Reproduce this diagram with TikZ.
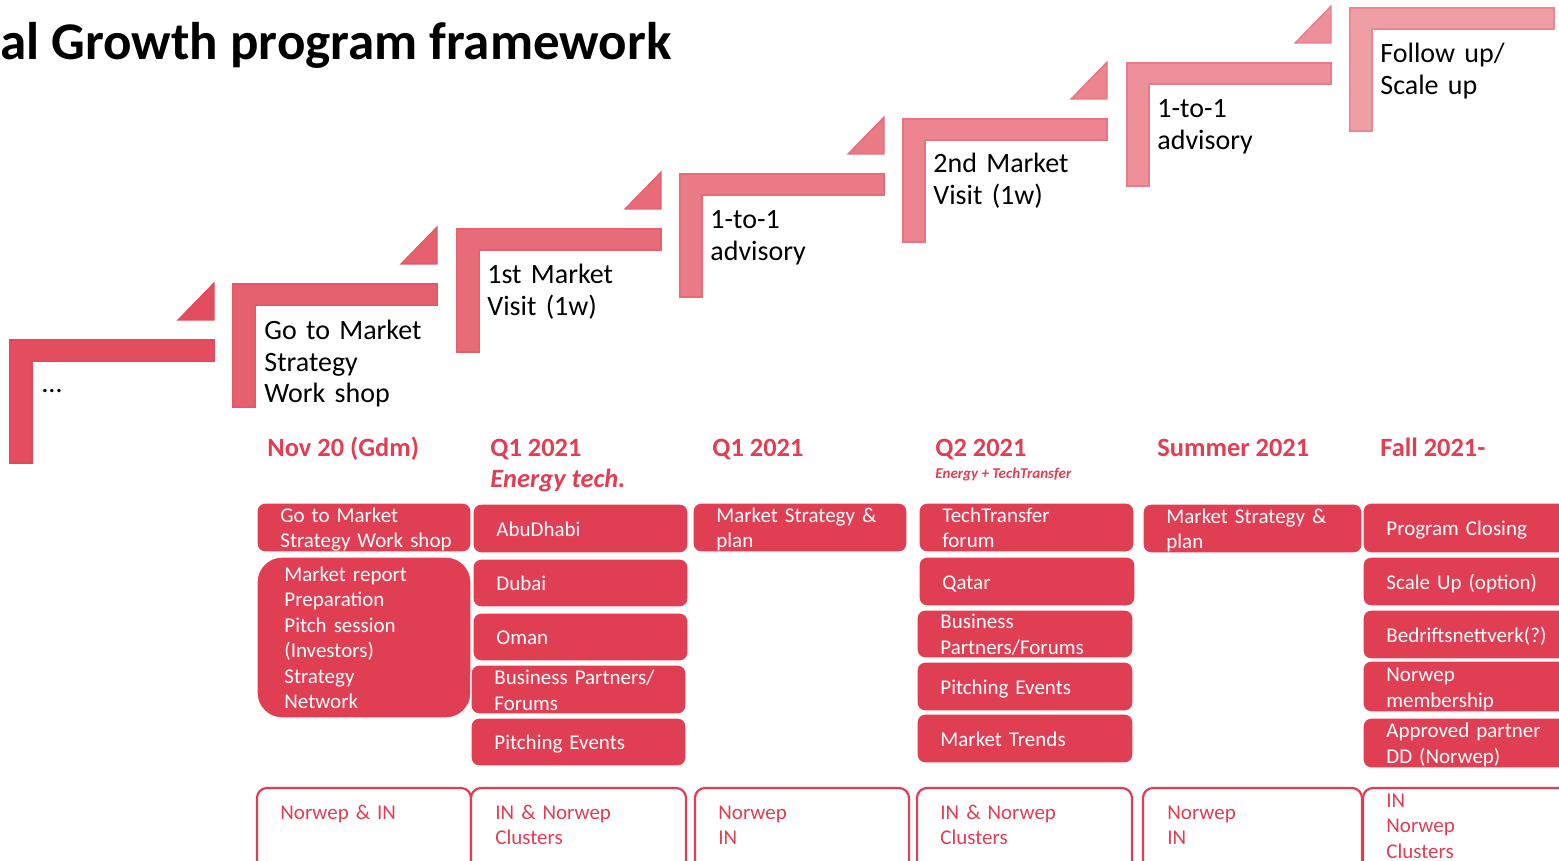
\documentclass[tikz,border=0pt]{standalone}
\usepackage{fontspec}
\setmainfont{Carlito}
\definecolor{boxred}{HTML}{E03E53}
\definecolor{sA}{HTML}{E34D5F}
\definecolor{sB}{HTML}{E5606F}
\definecolor{sC}{HTML}{E86B7A}
\definecolor{sD}{HTML}{E97A86}
\definecolor{sE}{HTML}{EC8590}
\definecolor{sF}{HTML}{EE9099}
\definecolor{sG}{HTML}{F09EA6}
\newcommand\stepshape[3]{%
  \filldraw[fill=#3, draw=#3!75!boxred, line width=0.6pt]
    (#1,#2) -- ++(204,0) -- ++(0,21) -- ++(-182,0) -- ++(0,102) -- ++(-22,0) -- cycle;}
\newcommand\steptri[3]{%
  \filldraw[fill=#3, draw=#3!75!boxred, line width=0.6pt]
    ({#1+168},{#2-20}) -- ({#1+204},{#2-20}) -- ({#1+204},{#2-57}) -- cycle;}
% name x1 y1 x2 y2 lines text
\newcommand\rbx[7]{%
  \node[rbox, minimum width={(#4-#2)*0.5pt}, minimum height={(#5-#3)*0.5pt}]
     (#1) at ({(#2+#4)/2},{(#3+#5)/2}) {};
  \node[rtext] (#1t) at ({#2+23},{(#3+#5)/2+7.5-(#6-1)*13}) {#7};}
\newcommand\obx[5]{%
  \node[obox, minimum width={(#4-#2)*0.5pt}, minimum height={(#5-#3)*0.5pt}] (#1) at ({(#2+#4)/2},{(#3+#5)/2}) {};}
\begin{document}
\begin{tikzpicture}[x=0.5pt,y=-0.5pt,
  steptext/.style={font=\fontsize{14}{15.75}\selectfont, text width=100pt, align=left, inner sep=0pt, anchor=base west},
  head/.style={font=\fontsize{13.2}{15}\selectfont\bfseries, text=boxred, inner sep=0pt, anchor=base west},
  rbox/.style={rectangle, rounded corners=4pt, fill=boxred, draw=white, line width=0.6pt, inner sep=0pt},
  rtext/.style={text=white, font=\fontsize{10.5}{13}\selectfont, align=left, text width=100pt,
    inner sep=0pt, anchor=base west},
  obox/.style={rectangle, rounded corners=5pt, fill=white, draw=boxred, line width=1.1pt},
  otext/.style={text=boxred, font=\fontsize{10.5}{12.75}\selectfont, align=left, text width=90pt, inner sep=0pt, anchor=base west}
]
\useasboundingbox (0,0) rectangle (1559,861);
\clip (0,0) rectangle (1559,861);

% title
\node[anchor=base west, inner sep=0pt, font=\fontsize{26.5}{30}\selectfont\bfseries] (title) at (0,60) {al Growth program framework};

% staircase
\stepshape{10}{340}{sA}    \steptri{10}{340}{sA}
\stepshape{233}{284}{sB}   \steptri{233}{284}{sB}
\stepshape{457}{229}{sC}   \steptri{457}{229}{sC}
\stepshape{680}{174}{sD}   \steptri{680}{174}{sD}
\stepshape{903}{119}{sE}   \steptri{903}{119}{sE}
\stepshape{1127}{63}{sF}   \steptri{1127}{63}{sF}
\stepshape{1350}{8}{sG}

\node[steptext] (st1) at (42,393) {…};
\node[steptext] (st2) at (264,340) {Go to Market\\Strategy\\Work shop};
\node[steptext] (st3) at (487,284) {1st Market\\Visit (1w)};
\node[steptext] (st4) at (710,229) {1-to-1\\advisory};
\node[steptext] (st5) at (933,173) {2nd Market\\Visit (1w)};
\node[steptext] (st6) at (1157,118) {1-to-1\\advisory};
\node[steptext] (st7) at (1380,63) {Follow up/\\Scale up};

% column headers
\node[head] (h1) at (267,456) {Nov 20 (Gdm)};
\node[head] (h2) at (490,456) {Q1 2021};
\node[head, font=\fontsize{13.2}{15}\selectfont\bfseries\itshape] (h2b) at (490,487) {Energy tech.};
\node[head] (h3) at (712,456) {Q1 2021};
\node[head] (h4) at (935,456) {Q2 2021};
\node[head, font=\fontsize{7.5}{9}\selectfont\bfseries\itshape] (h4b) at (935,478) {Energy + TechTransfer};
\node[head] (h5) at (1157,456) {Summer 2021};
\node[head] (h6) at (1380,456) {Fall 2021-};

% column 1
\rbx{c1a}{257}{503}{471}{552}{2}{Go to Market\\Strategy Work shop}
\node[rbox, rounded corners=12.5pt, minimum width=107pt, minimum height=80.5pt] (c1b) at (364,637.5) {};
\node[rtext, font=\fontsize{10.5}{12.7}\selectfont] (c1bt) at (284,581.5) {Market report\\Preparation\\Pitch session\\(Investors)\\Strategy\\Network};
% column 2
\rbx{c2a}{473}{504}{688}{553}{1}{AbuDhabi}
\rbx{c2b}{473}{559}{688}{607}{1}{Dubai}
\rbx{c2c}{473}{613}{688}{661}{1}{Oman}
\rbx{c2d}{471}{665}{686}{714}{2}{Business Partners/\\Forums}
\rbx{c2e}{471}{718}{686}{766}{1}{Pitching Events}
% column 3
\rbx{c3a}{693}{503}{907}{552}{2}{Market Strategy \&\\plan}
% column 4
\rbx{c4a}{919}{503}{1134}{552}{2}{TechTransfer\\forum}
\rbx{c4b}{919}{557}{1135}{606}{1}{Qatar}
\rbx{c4c}{917}{610}{1133}{658}{2}{Business\\Partners/Forums}
\rbx{c4d}{917}{662}{1133}{711}{1}{Pitching Events}
\rbx{c4e}{917}{714}{1133}{763}{1}{Market Trends}
% column 5
\rbx{c5a}{1143}{504}{1362}{553}{2}{Market Strategy \&\\plan}
% column 6
\rbx{c6a}{1363}{503}{1600}{553}{1}{Program Closing}
\rbx{c6b}{1363}{557}{1600}{606}{1}{Scale Up (option)}
\rbx{c6c}{1363}{610}{1600}{659}{1}{Bedriftsnettverk(?)}
\rbx{c6d}{1363}{661}{1600}{712}{2}{Norwep\\membership}
\rbx{c6e}{1363}{718}{1600}{768}{2}{Approved partner\\DD (Norwep)}

% bottom partner boxes
\obx{b1}{257}{788}{471}{880}
\obx{b2}{471}{788}{686}{880}
\obx{b3}{695}{788}{909}{880}
\obx{b4}{917}{788}{1132}{880}
\obx{b5}{1143}{788}{1362}{880}
\obx{b6}{1363}{788}{1600}{880}
\node[otext] (b1t) at (280,819) {Norwep \& IN};
\node[otext] (b2t) at (495,819) {IN \& Norwep\\Clusters};
\node[otext] (b3t) at (718,819) {Norwep\\IN};
\node[otext] (b4t) at (940,819) {IN \& Norwep\\Clusters};
\node[otext] (b5t) at (1167,819) {Norwep\\IN};
\node[otext] (b6t) at (1386,807) {IN\\Norwep\\Clusters};
\end{tikzpicture}
\end{document}
